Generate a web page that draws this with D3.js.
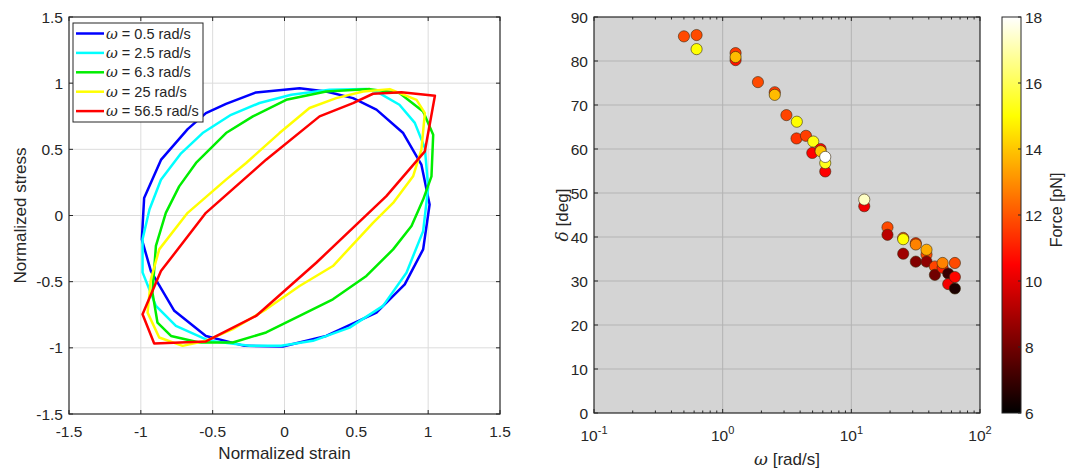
<!DOCTYPE html>
<html><head><meta charset="utf-8">
<script src="https://cdn.jsdelivr.net/npm/d3@7"></script>
<style>
body{margin:0;background:#fff;}
text{font-family:"Liberation Sans",Arial,sans-serif;fill:#262626;}
</style></head>
<body><svg id="c" width="1066" height="468"></svg>
<script>
// ---------- DATA ----------
const legendLabels = ["0.5 rad/s","2.5 rad/s","6.3 rad/s","25 rad/s","56.5 rad/s"];
const loopColors = ["#0000ff","#00ffff","#00ee00","#ffff00","#ff0000"];
const loop05 = [[0.105,0.962],[0.29,0.937],[0.477,0.887],[0.64,0.80],[0.826,0.623],[0.953,0.384],[1.01,0.083],[0.965,-0.256],[0.837,-0.52],[0.64,-0.734],[0.29,-0.91],[-0.012,-0.99],[-0.279,-0.985],[-0.547,-0.91],[-0.767,-0.72],[-0.93,-0.42],[-0.993,-0.18],[-0.977,0.133],[-0.86,0.42],[-0.674,0.653],[-0.547,0.774],[-0.407,0.844],[-0.198,0.93]];
const loop25 = [[0.57,0.955],[0.66,0.925],[0.8,0.837],[0.907,0.70],[0.977,0.51],[1.0,0.21],[0.965,-0.118],[0.849,-0.432],[0.686,-0.683],[0.453,-0.847],[0.198,-0.947],[-0.023,-0.985],[-0.244,-0.985],[-0.523,-0.947],[-0.756,-0.834],[-0.895,-0.683],[-0.988,-0.43],[-0.988,-0.18],[-0.94,0.045],[-0.86,0.27],[-0.72,0.47],[-0.57,0.623],[-0.372,0.761],[-0.174,0.85],[0.047,0.912],[0.314,0.95]];
const loop63 = [[0.593,0.955],[0.8,0.925],[0.965,0.786],[1.035,0.61],[1.023,0.296],[0.965,0.12],[0.884,-0.08],[0.756,-0.256],[0.57,-0.457],[0.337,-0.633],[0.105,-0.759],[-0.128,-0.884],[-0.36,-0.96],[-0.593,-0.96],[-0.79,-0.91],[-0.884,-0.81],[-0.919,-0.583],[-0.895,-0.23],[-0.826,0.02],[-0.733,0.22],[-0.616,0.397],[-0.407,0.623],[-0.22,0.749],[0.012,0.874],[0.29,0.937]];
const loop250 = [[0.733,0.955],[0.919,0.874],[0.977,0.774],[0.953,0.497],[0.895,0.296],[0.756,0.095],[0.616,-0.055],[0.337,-0.382],[0.105,-0.533],[-0.128,-0.709],[-0.36,-0.859],[-0.547,-0.947],[-0.709,-0.985],[-0.872,-0.922],[-0.953,-0.734],[-0.93,-0.482],[-0.872,-0.256],[-0.674,0.02],[-0.407,0.271],[-0.267,0.397],[-0.035,0.623],[0.174,0.812],[0.36,0.887],[0.547,0.937]];
const loop565 = [[1.047,0.905],[0.814,0.932],[0.616,0.92],[0.477,0.849],[0.244,0.749],[-0.128,0.422],[-0.547,0.02],[-0.86,-0.42],[-0.988,-0.746],[-0.907,-0.967],[-0.547,-0.952],[-0.198,-0.759],[0.221,-0.357],[0.709,0.146],[0.977,0.485]];
const loops = [loop05, loop25, loop63, loop250, loop565];
const leftTicks = [-1.5,-1,-0.5,0,0.5,1,1.5];

const omega = [0.50,0.627,0.627,1.26,1.26,1.26,1.88,2.54,2.54,3.13,3.77,3.75,4.44,5.06,4.97,5.77,5.77,6.27,6.27,6.27,12.6,12.6,19.1,19.1,25.3,25.3,25.3,31.7,31.7,31.7,38.4,38.4,38.4,44.6,44.6,51.2,51.2,56.6,56.6,63.8,63.8,63.8];
const delta = [85.6,85.9,82.7,81.8,80.2,80.9,75.2,72.9,72.3,67.7,66.2,62.4,63.0,61.7,59.1,60.0,59.5,54.9,56.8,58.2,47.0,48.5,42.2,40.5,39.8,39.5,36.2,38.6,38.3,34.4,36.0,37.1,34.4,33.3,31.4,33.0,34.1,31.7,29.3,34.1,30.9,28.3];
const force = [11.8,11.8,15.0,11.5,10.8,13.8,11.8,11.5,13.8,11.7,15.0,11.4,11.6,15.2,10.5,10.5,14.0,10.5,15.3,18.0,10.3,17.3,11.8,9.3,12.0,15.0,8.8,11.3,12.8,8.3,11.8,13.5,8.5,11.7,8.0,11.0,12.8,7.0,10.3,11.8,10.6,6.5];
const rightYTicks = [0,10,20,30,40,50,60,70,80,90];
const rightXTicks = [-1,0,1,2];
const cbTicks = [6,8,10,12,14,16,18];

// ---------- DRAW ----------
const svg = d3.select("#c");
const axisCol = "#262626";
const TF = 15.5, LF = 17, GF = 14.5;

// Left panel
const L = {x0:69, x1:500, y0:17, y1:414};
const lx = d3.scaleLinear().domain([-1.5,1.5]).range([L.x0,L.x1]);
const ly = d3.scaleLinear().domain([-1.5,1.5]).range([L.y1,L.y0]);
const gL = svg.append("g");
gL.append("rect").attr("x",L.x0).attr("y",L.y0).attr("width",L.x1-L.x0).attr("height",L.y1-L.y0).attr("fill","#fff");
gL.selectAll(".gv").data(leftTicks.slice(1,-1)).enter().append("line")
 .attr("x1",d=>lx(d)).attr("x2",d=>lx(d)).attr("y1",L.y0).attr("y2",L.y1).attr("stroke","#dcdcdc").attr("stroke-width",1);
gL.selectAll(".gh").data(leftTicks.slice(1,-1)).enter().append("line")
 .attr("y1",d=>ly(d)).attr("y2",d=>ly(d)).attr("x1",L.x0).attr("x2",L.x1).attr("stroke","#dcdcdc").attr("stroke-width",1);
const line = d3.line().x(d=>lx(d[0])).y(d=>ly(d[1])).curve(d3.curveLinearClosed);
loops.forEach((lp,i)=>{
  gL.append("path").attr("d",line(lp)).attr("fill","none").attr("stroke",loopColors[i]).attr("stroke-width",2.5).attr("stroke-linejoin","round");
});
function boxAxes(g, xs, ys, B, xt, yt, tickLen){
  g.append("rect").attr("x",B.x0).attr("y",B.y0).attr("width",B.x1-B.x0).attr("height",B.y1-B.y0).attr("fill","none").attr("stroke",axisCol).attr("stroke-width",1.2);
  xt.forEach(v=>{
    const x = xs(v);
    g.append("line").attr("x1",x).attr("x2",x).attr("y1",B.y1).attr("y2",B.y1-tickLen).attr("stroke",axisCol);
    g.append("line").attr("x1",x).attr("x2",x).attr("y1",B.y0).attr("y2",B.y0+tickLen).attr("stroke",axisCol);
  });
  yt.forEach(v=>{
    const y = ys(v);
    g.append("line").attr("x1",B.x0).attr("x2",B.x0+tickLen).attr("y1",y).attr("y2",y).attr("stroke",axisCol);
    g.append("line").attr("x1",B.x1).attr("x2",B.x1-tickLen).attr("y1",y).attr("y2",y).attr("stroke",axisCol);
  });
}
boxAxes(gL, lx, ly, L, leftTicks, leftTicks, 4);
gL.selectAll(".xl").data(leftTicks).enter().append("text")
 .attr("x",d=>lx(d)).attr("y",L.y1+23).attr("text-anchor","middle").attr("font-size",TF).text(d=>d);
gL.selectAll(".yl").data(leftTicks).enter().append("text")
 .attr("x",L.x0-6).attr("y",d=>ly(d)+5.5).attr("text-anchor","end").attr("font-size",TF).text(d=>d);
gL.append("text").attr("x",(L.x0+L.x1)/2).attr("y",459).attr("text-anchor","middle").attr("font-size",LF).text("Normalized strain");
gL.append("text").attr("transform",`translate(26,${(L.y0+L.y1)/2}) rotate(-90)`).attr("text-anchor","middle").attr("font-size",LF).text("Normalized stress");
// legend
const lg = gL.append("g");
lg.append("rect").attr("x",73).attr("y",23).attr("width",130).attr("height",99).attr("fill","#fff").attr("stroke",axisCol).attr("stroke-width",1);
legendLabels.forEach((t,i)=>{
  const y = 33.5 + i*19.4;
  lg.append("line").attr("x1",76).attr("x2",104).attr("y1",y).attr("y2",y).attr("stroke",loopColors[i]).attr("stroke-width",2.5);
  const tx = lg.append("text").attr("x",106).attr("y",y+5).attr("font-size",GF);
  tx.append("tspan").attr("font-family","'DejaVu Serif',serif").attr("font-style","italic").text("ω");
  tx.append("tspan").text(" = "+t);
});

// Right panel
const R = {x0:594, x1:980, y0:17, y1:413};
const rx = d3.scaleLog().domain([0.1,100]).range([R.x0,R.x1]);
const ry = d3.scaleLinear().domain([0,90]).range([R.y1,R.y0]);
const gR = svg.append("g");
gR.append("rect").attr("x",R.x0).attr("y",R.y0).attr("width",R.x1-R.x0).attr("height",R.y1-R.y0).attr("fill","#d4d4d4");
gR.selectAll(".gv").data(rightXTicks.slice(1,-1)).enter().append("line")
 .attr("x1",d=>rx(Math.pow(10,d))).attr("x2",d=>rx(Math.pow(10,d))).attr("y1",R.y0).attr("y2",R.y1).attr("stroke","#b4b4b4");
gR.selectAll(".gh").data(rightYTicks.slice(1,-1)).enter().append("line")
 .attr("y1",d=>ry(d)).attr("y2",d=>ry(d)).attr("x1",R.x0).attr("x2",R.x1).attr("stroke","#b4b4b4");
boxAxes(gR, d=>rx(Math.pow(10,d)), ry, R, rightXTicks, rightYTicks, 4);
const minors = [];
for (let e=-1;e<2;e++) for (let m=2;m<10;m++) minors.push(m*Math.pow(10,e));
minors.forEach(v=>{
  const x = rx(v);
  gR.append("line").attr("x1",x).attr("x2",x).attr("y1",R.y1).attr("y2",R.y1-2.5).attr("stroke",axisCol);
  gR.append("line").attr("x1",x).attr("x2",x).attr("y1",R.y0).attr("y2",R.y0+2.5).attr("stroke",axisCol);
});
const fmin=6, fmax=18;
function hot(f){
  const t = Math.max(0,Math.min(1,(f-fmin)/(fmax-fmin)));
  const r = Math.min(1,t/0.375), g = Math.max(0,Math.min(1,(t-0.375)/0.375)), b = Math.max(0,Math.min(1,(t-0.75)/0.25));
  return d3.rgb(r*255,g*255,b*255).toString();
}
const pts = omega.map((w,i)=>({w, d:delta[i], f:force[i]}));
gR.selectAll(".pt").data(pts).enter().append("circle")
 .attr("cx",d=>rx(d.w)).attr("cy",d=>ry(d.d)).attr("r",5.6)
 .attr("fill",d=>hot(d.f)).attr("stroke","#3a2a10").attr("stroke-width",0.7).attr("stroke-opacity",0.85);
gR.selectAll(".yl").data(rightYTicks).enter().append("text")
 .attr("x",R.x0-6).attr("y",d=>ry(d)+5.5).attr("text-anchor","end").attr("font-size",TF).text(d=>d);
rightXTicks.forEach(e=>{
  const t = gR.append("text").attr("x",rx(Math.pow(10,e))).attr("y",R.y1+28).attr("text-anchor","middle").attr("font-size",TF);
  t.append("tspan").text("10");
  t.append("tspan").attr("dy",-7).attr("font-size",11).text(e);
});
const xlab = gR.append("text").attr("x",(R.x0+R.x1)/2).attr("y",465).attr("text-anchor","middle").attr("font-size",LF);
xlab.append("tspan").attr("font-family","'DejaVu Serif',serif").attr("font-style","italic").text("ω");
xlab.append("tspan").text(" [rad/s]");
const ylab = gR.append("text").attr("transform",`translate(568,${(R.y0+R.y1)/2}) rotate(-90)`).attr("text-anchor","middle").attr("font-size",LF);
ylab.append("tspan").attr("font-family","'DejaVu Serif',serif").attr("font-style","italic").text("δ");
ylab.append("tspan").text(" [deg]");

// Colorbar
const C = {x0:1002, x1:1021, y0:17, y1:413};
const cy = d3.scaleLinear().domain([fmin,fmax]).range([C.y1,C.y0]);
const defs = svg.append("defs");
const grad = defs.append("linearGradient").attr("id","hotg").attr("x1",0).attr("y1",1).attr("x2",0).attr("y2",0);
d3.range(0,65).forEach(i=>{
  const f = fmin + (fmax-fmin)*i/64;
  grad.append("stop").attr("offset",(i/64)).attr("stop-color",hot(f));
});
svg.append("rect").attr("x",C.x0).attr("y",C.y0).attr("width",C.x1-C.x0).attr("height",C.y1-C.y0).attr("fill","url(#hotg)").attr("stroke",axisCol).attr("stroke-width",1);
cbTicks.forEach(v=>{
  svg.append("line").attr("x1",C.x1).attr("x2",C.x1-3).attr("y1",cy(v)).attr("y2",cy(v)).attr("stroke",axisCol);
  svg.append("text").attr("x",C.x1+4).attr("y",cy(v)+5.5).attr("font-size",TF).text(v);
});
svg.append("text").attr("transform",`translate(1062,210) rotate(-90)`).attr("text-anchor","middle").attr("font-size",LF-1).text("Force [pN]");
</script></body></html>
